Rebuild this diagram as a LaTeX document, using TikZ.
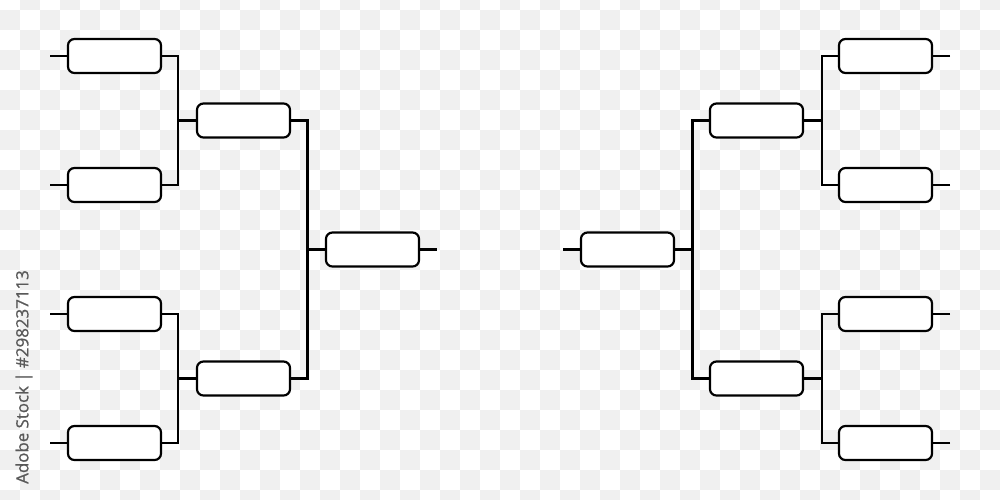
\documentclass[tikz,border=0pt]{standalone}
\usepackage{fontspec}
\newfontfamily\wmfont[FakeBold=0.8]{Open Sans}
\begin{document}
\begin{tikzpicture}[x=0.01cm,y=-0.01cm,
  slot/.style={draw=black,fill=white,line width=0.62pt,rounded corners=0.065cm,
    minimum width=0.93cm,minimum height=0.34cm,inner sep=0pt,outer sep=0pt},
  wire/.style={draw=black,line width=0.62pt}]
\useasboundingbox (0,0) rectangle (1000,500);
\clip (0,0) rectangle (1000,500);
\fill[white] (0,0) rectangle (1000,500);
\foreach \r in {-1,...,24}{
  \foreach \c in {0,...,49}{
    \pgfmathtruncatemacro\s{mod(\c+\r+100,2)}
    \ifnum\s=0
      \fill[black!6] (20*\c,10+20*\r) rectangle (20*\c+20,30+20*\r);
    \fi
  }
}
% left side
\node[slot] (L1) at (114.5,56) {};
\node[slot] (L2) at (114.5,185) {};
\node[slot] (L3) at (114.5,314) {};
\node[slot] (L4) at (114.5,443) {};
\node[slot] (LM1) at (243.5,120.5) {};
\node[slot] (LM2) at (243.5,378.5) {};
\node[slot] (LF) at (372.5,249.5) {};
% right side
\node[slot] (R1) at (885.5,56) {};
\node[slot] (R2) at (885.5,185) {};
\node[slot] (R3) at (885.5,314) {};
\node[slot] (R4) at (885.5,443) {};
\node[slot] (RM1) at (756.5,120.5) {};
\node[slot] (RM2) at (756.5,378.5) {};
\node[slot] (RF) at (627.5,249.5) {};
% stubs
\coordinate (SL1) at (50,56);
\coordinate (SL2) at (50,185);
\coordinate (SL3) at (50,314);
\coordinate (SL4) at (50,443);
\coordinate (SR1) at (950,56);
\coordinate (SR2) at (950,185);
\coordinate (SR3) at (950,314);
\coordinate (SR4) at (950,443);
\coordinate (SLF) at (437,249.5);
\coordinate (SRF) at (563,249.5);
\draw[wire] (SL1) -- (L1.west);
\draw[wire] (SL2) -- (L2.west);
\draw[wire] (SL3) -- (L3.west);
\draw[wire] (SL4) -- (L4.west);
\draw[wire] (SR1) -- (R1.east);
\draw[wire] (SR2) -- (R2.east);
\draw[wire] (SR3) -- (R3.east);
\draw[wire] (SR4) -- (R4.east);
\draw[wire] (LF.east) -- (SLF);
\draw[wire] (RF.west) -- (SRF);
% junctions
\coordinate (JL1) at (178,120.5);
\coordinate (JL2) at (178,378.5);
\coordinate (JLF) at (307.5,249.5);
\coordinate (JR1) at (822,120.5);
\coordinate (JR2) at (822,378.5);
\coordinate (JRF) at (692.5,249.5);
\draw[wire] (L1.east) -| (JL1) |- (L2.east);
\draw[wire] (JL1) -- (LM1.west);
\draw[wire] (L3.east) -| (JL2) |- (L4.east);
\draw[wire] (JL2) -- (LM2.west);
\draw[wire] (LM1.east) -| (JLF) |- (LM2.east);
\draw[wire] (JLF) -- (LF.west);
\draw[wire] (R1.west) -| (JR1) |- (R2.west);
\draw[wire] (JR1) -- (RM1.east);
\draw[wire] (R3.west) -| (JR2) |- (R4.west);
\draw[wire] (JR2) -- (RM2.east);
\draw[wire] (RM1.west) -| (JRF) |- (RM2.west);
\draw[wire] (JRF) -- (RF.east);
% vertical stock label
\node[rotate=90,text=black!65,inner sep=0pt,font=\wmfont\fontsize{4.8pt}{5pt}\selectfont] (wm) at (24,377) {Adobe Stock | \#298237113};
\end{tikzpicture}
\end{document}
